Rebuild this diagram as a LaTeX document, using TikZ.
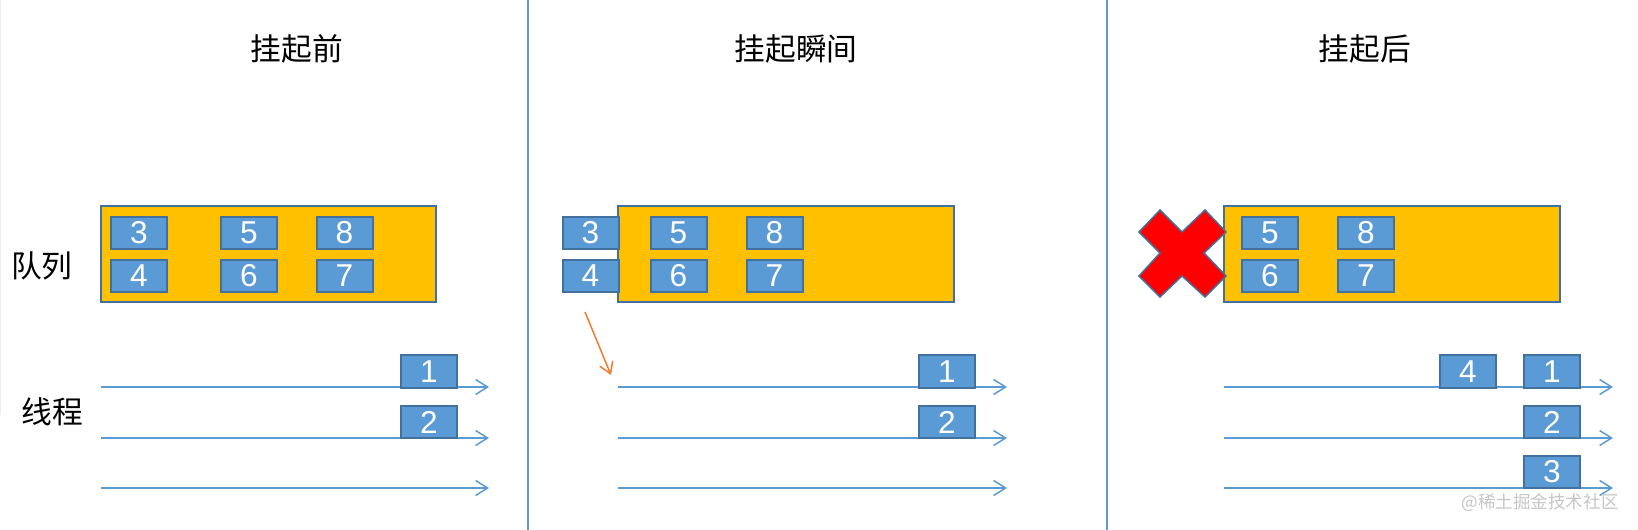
\documentclass[tikz,border=0pt]{standalone}
\usepackage{fontspec}
\setmainfont{Liberation Sans}
\newfontfamily\cjk{Noto Sans CJK SC}
\usetikzlibrary{arrows.meta}
\definecolor{qorange}{HTML}{FFC000}
\definecolor{tblue}{HTML}{5B9BD5}
\definecolor{dblue}{HTML}{41719C}
\definecolor{aorange}{HTML}{ED7D31}
\begin{document}
\begin{tikzpicture}[x=0.02cm, y=-0.02cm]
 \tikzstyle{queue} = [draw=dblue, line width=0.4mm, fill=qorange];
 \tikzstyle{task} = [draw=dblue, line width=0.4mm, fill=tblue, text=white, minimum width=1.12cm, minimum height=0.65cm, inner sep=0pt, font=\fontsize{18}{18}\selectfont];
 \tikzstyle{flow} = [-{Straight Barb[length=2.4mm,width=3mm]}, draw=tblue, line width=0.3mm];
 \tikzstyle{label} = [font=\cjk\fontsize{17.5}{18}\selectfont];
 \tikzstyle{sep} = [draw=tblue, line width=0.45mm];
 \useasboundingbox (0,0) rectangle (1638,530);
\draw [gray!12, line width=0.3mm] (0.5,0) -- (0.5,415);
\draw [sep] (528,0) -- (528,530);
\draw [sep] (1107,0) -- (1107,530);

\node [label] (v1) at (297,49) {挂起前};
\node [label] (v2) at (796,49) {挂起瞬间};
\node [label] (v3) at (1365,49) {挂起后};
\node [label] (v4) at (42,266) {队列};
\node [label] (v5) at (52,412) {线程};

\draw [queue] (101,206) rectangle (436,302);
\node [task] (v6) at (139,233) {3};
\node [task] (v7) at (139,276) {4};
\node [task] (v8) at (249,233) {5};
\node [task] (v9) at (249,276) {6};
\node [task] (v10) at (344.5,233) {8};
\node [task] (v11) at (344.5,276) {7};
\coordinate (a1) at (101,387);
\coordinate (b1) at (489,387);
\coordinate (a2) at (101,438);
\coordinate (b2) at (489,438);
\coordinate (a3) at (101,488);
\coordinate (b3) at (489,488);
\draw [flow] (a1) -- (b1);
\draw [flow] (a2) -- (b2);
\draw [flow] (a3) -- (b3);
\node [task] (v12) at (429,371.5) {1};
\node [task] (v13) at (429,422) {2};

\draw [queue] (618,206) rectangle (954,302);
\node [task] (v14) at (590.5,233) {3};
\node [task] (v15) at (590.5,276) {4};
\node [task] (v16) at (678.5,233) {5};
\node [task] (v17) at (678.5,276) {6};
\node [task] (v18) at (774.5,233) {8};
\node [task] (v19) at (774.5,276) {7};
\coordinate (a4) at (618,387);
\coordinate (b4) at (1007,387);
\coordinate (a5) at (618,438);
\coordinate (b5) at (1007,438);
\coordinate (a6) at (618,488);
\coordinate (b6) at (1007,488);
\draw [flow] (a4) -- (b4);
\draw [flow] (a5) -- (b5);
\draw [flow] (a6) -- (b6);
\node [task] (v20) at (947,371.5) {1};
\node [task] (v21) at (947,422) {2};
\coordinate (c1) at (585,312);
\coordinate (c2) at (611,375);
\draw [-{Straight Barb[length=2.2mm,width=2.8mm]}, aorange, line width=0.3mm] (c1) -- (c2);

\draw [queue] (1224,206) rectangle (1560,302);
\node [task] (v22) at (1270,233) {5};
\node [task] (v23) at (1270,276) {6};
\node [task] (v24) at (1366,233) {8};
\node [task] (v25) at (1366,276) {7};
\draw [fill=red, draw=dblue, line width=0.3mm] (1139,232) -- (1160,210) -- (1182,232) -- (1205,210) -- (1226,232) -- (1204,253) -- (1226,276) -- (1205,297) -- (1182,276) -- (1160,297) -- (1139,276) -- (1160,253) -- cycle;
\coordinate (a7) at (1224,387);
\coordinate (b7) at (1613,387);
\coordinate (a8) at (1224,438);
\coordinate (b8) at (1613,438);
\coordinate (a9) at (1224,488);
\coordinate (b9) at (1613,488);
\draw [flow] (a7) -- (b7);
\draw [flow] (a8) -- (b8);
\draw [flow] (a9) -- (b9);
\node [task] (v26) at (1468,371.5) {4};
\node [task] (v27) at (1552,371.5) {1};
\node [task] (v28) at (1552,422) {2};
\node [task] (v29) at (1552,472) {3};
\node [font=\cjk\fontsize{10}{10}\selectfont, text=gray!45] (v30) at (1540,503) {@稀土掘金技术社区};

\end{tikzpicture}
\end{document}
